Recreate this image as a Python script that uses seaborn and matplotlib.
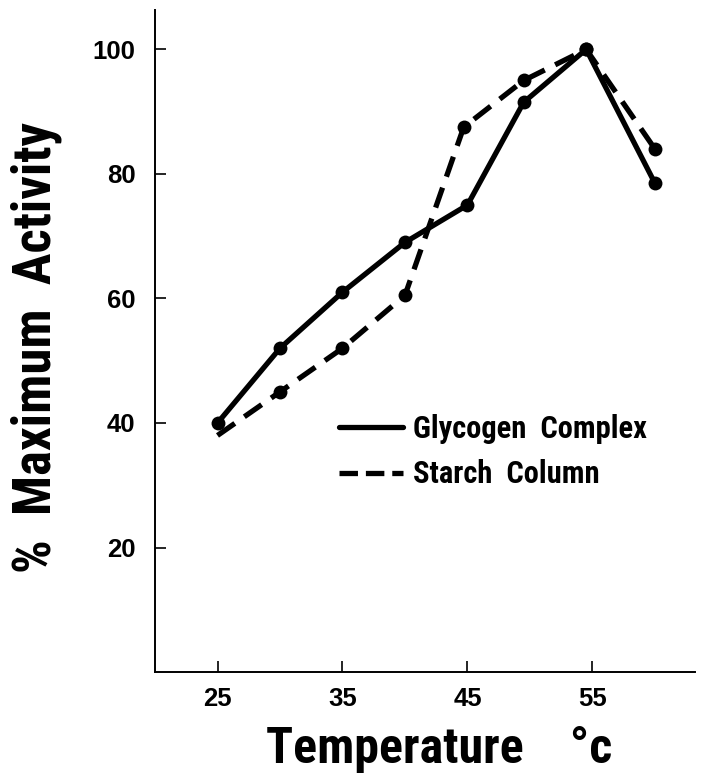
import matplotlib
matplotlib.use("Agg")
import matplotlib.pyplot as plt
from matplotlib.lines import Line2D
from matplotlib import font_manager
import seaborn as sns
import pandas as pd

# data
glyco_temp = [25, 30, 35, 40, 45, 49.5, 54.5, 60]
glyco_act = [40, 52, 61, 69, 75, 91.5, 100, 78.5]
starch_temp = [25, 30, 35, 40, 44.7, 49.5, 54.5, 60]
starch_act = [38, 45, 52, 60.5, 87.5, 95, 100, 84]
xticks = [25, 35, 45, 55]
yticks = [20, 40, 60, 80, 100]

sns.set_theme(style="white")
plt.rcParams['font.family'] = ['Liberation Sans', 'DejaVu Sans']
plt.rcParams['text.color'] = 'black'
plt.rcParams['axes.labelcolor'] = 'black'
plt.rcParams['xtick.color'] = 'black'
plt.rcParams['ytick.color'] = 'black'

available = {f.name for f in font_manager.fontManager.ttflist}
narrow = [f for f in ['Liberation Sans Narrow', 'Roboto Condensed',
                      'DejaVu Sans Condensed', 'Open Sans Condensed']
          if f in available] + ['DejaVu Sans']

fig = plt.figure(figsize=(7.03, 7.77), dpi=100)
ax = fig.add_axes([0.2205, 0.135, 0.768, 0.852])

gdf = pd.DataFrame({"t": glyco_temp, "a": glyco_act})
sdf = pd.DataFrame({"t": starch_temp, "a": starch_act})

sns.lineplot(data=gdf, x="t", y="a", ax=ax, color="black", lw=3.8,
             marker="o", markersize=10, markeredgewidth=0, sort=False)
sns.lineplot(data=sdf, x="t", y="a", ax=ax, color="black", lw=3.8,
             marker="o", markersize=10, markeredgewidth=0,
             markevery=list(range(1, len(starch_temp))), sort=False)
for ln in ax.lines[1:]:
    ln.set_dashes((4, 2.2))

ax.set_xlim(20, 63.2)
ax.set_ylim(0, 106.3)
ax.set_xticks(xticks)
ax.set_yticks(yticks)
ax.tick_params(direction="in", length=8, width=1.2, color="black",
               labelsize=18.5, left=True, bottom=True, labelcolor="black")
ax.tick_params(axis="y", pad=14)
ax.tick_params(axis="x", pad=11)
for lab in ax.get_xticklabels() + ax.get_yticklabels():
    lab.set_fontweight("bold")

sns.despine(ax=ax)
for s in ["left", "bottom"]:
    ax.spines[s].set_color("black")
    ax.spines[s].set_linewidth(1.4)

ax.set_xlabel("Temperature    °c", fontsize=36, fontweight="bold",
              family=narrow, va="top", color="black")
ax.xaxis.set_label_coords(0.527, -0.082)
ax.set_ylabel("%  Maximum  Activity", fontsize=38, fontweight="bold",
              family=narrow, color="black")
ax.yaxis.set_label_coords(-0.172, 0.49)

handles = [Line2D([], [], color="black", lw=3.8),
           Line2D([], [], color="black", lw=3.8, dashes=(3.5, 1.5))]
leg = ax.legend(handles, ["Glycogen  Complex", "Starch  Column"],
                loc="upper left", bbox_to_anchor=(0.34, 0.39),
                frameon=False, handlelength=2.1, handletextpad=0.35,
                labelspacing=0.5, borderpad=0, borderaxespad=0,
                prop={"family": narrow, "weight": "bold", "size": 22})
for t in leg.get_texts():
    t.set_color("black")

fig.savefig("out.png", dpi=100)
